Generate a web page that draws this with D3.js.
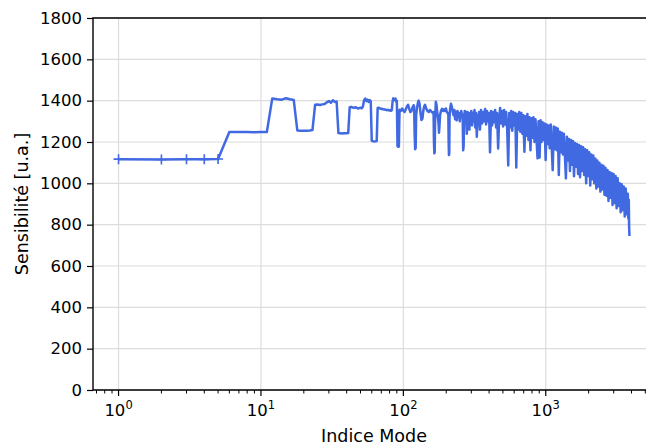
<!DOCTYPE html>
<html><head><meta charset="utf-8">
<script src="https://cdn.jsdelivr.net/npm/d3@7"></script>
<style>
body{margin:0;background:#fff}
svg{display:block}
text{font-family:"DejaVu Sans",sans-serif;fill:#000}
</style>
</head><body>
<svg id="chart" width="646" height="447"></svg>
<script>
// Mode index (x) and sensitivity (y)
const modeIndex = [
1,2,3,4,5,6,7,8,9,10,11,12,13,14,15,16,17,18,19,20,21,22,23,24,25,26,27,28,29,30,
31,32,33,34,35,36,37,38,39,40,41,42,43,44,45,46,47,48,49,50,51,52,53,54,55,56,57,58,59,60,
61,62,63,64,65,66,67,68,69,70,71,72,73,74,75,76,77,78,79,80,81,82,83,84,85,86,87,88,89,90,
91,92,93,94,96,98,100,102,104,106,108,110,112,114,116,118,119,120,121,122,123,125,127,128,130,
132,134,136,138,140,142,145,148,151,154,157,160,163,164,165,166,167,169,171,173,175,177,178,179,181,
184,187,190,193,196,199,202,205,207,208,209,210,211,213,216,219,222,225,228,231,234,237,240,243,246,
249,252,255,258,261,263,265,267,270,273,276,279,282,285,288,291,294,297,300,304,308,312,316,320,324,
328,332,336,340,
345,351,357,363,369,375,381,387,393,400,406,413,420,427,434,441,448,455,463,470,
478,486,494,502,510,519,527,536,545,554,563,572,582,591,601,611,621,631,642,652,
663,674,685,696,708,720,731,743,756,768,781,794,807,820,834,847,861,876,890,905,
920,935,950,966,982,998,1015,1031,1048,1066,1083,1101,1119,1138,1157,1176,1195,1215,1235,1255,
1276,1297,1319,1340,1363,1385,1408,1431,1455,1479,1503,1528,1553,1579,1605,1632,1659,1686,1714,1742,
1771,1800,1830,1860,1891,1922,1954,1986,2019,2053,2087,2121,2156,2192,2228,2265,2303,2341,2379,2419,
2459,2499,2541,2583,2625,2669,2713,2758,2803,2850,2897,2945,2993,3043,3093,3144,3196,3249,3303,3357,
3413,3469,3527,3585,3644,3705,3766,3800,3828,3850,3870
];
const sensitivity = [
1117,1115,1117,1116,1118,1248,1248,1248,1247,1248,1248,1410,1407,1405,1412,1407,1403,1256,1255,1254,1255,1256,1258,1380,1381,1379,1382,1384,1392,1398,
1390,1402,1394,1396,1243,1242,1241,1242,1242,1242,1243,1368,1370,1367,1366,1368,1366,1362,1364,1366,1363,1372,1402,1410,1398,1405,1394,1403,1398,1206,
1204,1203,1203,1204,1205,1365,1366,1364,1362,1360,1361,1358,1357,1358,1356,1355,1354,1356,1353,1352,1354,1351,1355,1396,1411,1408,1404,1410,1395,1400,
1180,1177,1178,1356,1350,1362,1352,1345,1358,1372,1380,1360,1345,1350,1368,1378,1372,1240,1165,1170,1330,1370,1395,1400,1385,
1340,1306,1312,1350,1372,1380,1360,1350,1345,1355,1348,1342,1345,1200,1145,1150,1300,1395,1380,1340,1320,1280,1245,1270,1330,
1352,1360,1350,1358,1350,1362,1345,1340,1330,1200,1137,1145,1320,1360,1385,1370,1350,1330,1355,1310,1345,1305,1350,1325,1340,
1300,1335,1350,1330,1320,1160,1180,1330,1350,1300,1345,1240,1345,1290,1340,1260,1335,1310,1350,1280,1340,1300,1355,1270,1340,
1226,1330,1290,1345,
1260,1355,1290,1345,1300,1360,1285,1350,1300,1340,1150,1350,1280,1345,1295,1355,1270,1340,1169,1300,
1365,1290,1350,1275,1355,1285,1345,1260,1087,1340,1270,1350,1255,1345,1280,1340,1077,1335,1260,1345,
1250,1340,1240,1330,1153,1325,1230,1335,1210,1320,1160,1315,1220,1320,1200,1310,1215,1121,1300,1125,
1305,1200,1295,1210,1290,1113,1285,1190,1280,1170,1285,1175,1064,1275,1165,1270,1160,1265,1040,1250,
1150,1245,1140,1240,1130,1024,1225,1110,1215,1060,1210,1090,1205,1035,1195,1080,1190,1045,1185,1030,
1180,1060,1175,1040,1165,1000,1160,1035,1150,990,1140,1020,1135,1000,1120,975,1110,985,1100,960,
1090,970,1085,945,1075,940,1065,915,1055,930,1050,895,1045,905,1035,880,1025,890,1000,860,
995,870,985,840,975,850,950,830,920,790,745
];
const yTickValues = [0,200,400,600,800,1000,1200,1400,1600,1800];
const xMajorTicks = [1,10,100,1000];
const xTickExponents = ["0","1","2","3"];
const markedModes = [1,2,3,4,5];
const xLabel = "Indice Mode";
const yLabel = "Sensibilité [u.a.]";

const data = modeIndex.map((m,i)=>({m, v: sensitivity[i]}));
const svg = d3.select("#chart");
const L = 93, R = 655, T = 18, B = 390;
const nLast = d3.max(modeIndex);
const x = d3.scaleLog()
  .domain([Math.pow(nLast,-0.05), Math.pow(nLast,1.05)])
  .range([L, R]);
const y = d3.scaleLinear().domain([0,1800]).range([B, T]);

svg.append("defs").append("clipPath").attr("id","clip")
  .append("rect").attr("x",L).attr("y",T).attr("width",R-L).attr("height",B-T);

// grid
const grid = svg.append("g").attr("stroke","#dcdcdc").attr("stroke-width",1.2);
grid.selectAll("line.gy").data(yTickValues).join("line")
  .attr("x1",L).attr("x2",R).attr("y1",d=>y(d)).attr("y2",d=>y(d));
grid.selectAll("line.gx").data(xMajorTicks).join("line")
  .attr("x1",d=>x(d)).attr("x2",d=>x(d)).attr("y1",T).attr("y2",B);

// data line
const plot = svg.append("g").attr("clip-path","url(#clip)");
plot.append("path").datum(data)
  .attr("fill","none").attr("stroke","#4169e1").attr("stroke-width",2.5)
  .attr("stroke-linejoin","round")
  .attr("d", d3.line().x(d=>x(d.m)).y(d=>y(d.v)));
const mk = data.filter(d=>markedModes.includes(d.m));
plot.selectAll("path.mk").data(mk).join("path")
  .attr("fill","none").attr("stroke","#4169e1").attr("stroke-width",1.6)
  .attr("d", d=>{const cx=x(d.m), cy=y(d.v), s=5; return `M${cx-s},${cy}H${cx+s}M${cx},${cy-s}V${cy+s}`;});

// axes
const yAxis = d3.axisLeft(y).tickValues(yTickValues).tickSize(6).tickPadding(5).tickFormat(d3.format("d"));
const gy = svg.append("g").attr("transform",`translate(${L},0)`).call(yAxis);
gy.select(".domain").remove();
gy.selectAll(".tick line").attr("stroke","#000").attr("stroke-width",1.2);
gy.selectAll("text").attr("font-size",16.5).attr("font-family","DejaVu Sans");

const minor = [];
const [d0,d1] = x.domain();
for (let e=-1;e<=4;e++) for (let k=2;k<=9;k++){const v=k*Math.pow(10,e); if(v>=d0&&v<=d1) minor.push(v);}
const gx = svg.append("g").attr("transform",`translate(0,${B})`);
gx.selectAll("line.minor").data(minor).join("line")
  .attr("x1",d=>x(d)).attr("x2",d=>x(d)).attr("y1",0).attr("y2",3.5)
  .attr("stroke","#000").attr("stroke-width",1);
gx.selectAll("line.major").data(xMajorTicks).join("line")
  .attr("x1",d=>x(d)).attr("x2",d=>x(d)).attr("y1",0).attr("y2",6)
  .attr("stroke","#000").attr("stroke-width",1.2);
const lbl = gx.selectAll("text.xl").data(xMajorTicks).join("text")
  .attr("x",d=>x(d)).attr("y",26).attr("text-anchor","middle").attr("font-size",16.5);
lbl.append("tspan").text("10");
lbl.append("tspan").attr("dy",-7).attr("font-size",11.5).text((d,i)=>xTickExponents[i]);

// spines
svg.append("g").attr("stroke","#000").attr("stroke-width",1.4).attr("fill","none")
  .append("path").attr("d",`M${L},${T}H${R}V${B}H${L}Z`);

// labels
svg.append("text").attr("x",(L+R)/2).attr("y",442).attr("text-anchor","middle")
  .attr("font-size",17.5).text(xLabel);
svg.append("text").attr("transform",`translate(28,${(T+B)/2}) rotate(-90)`)
  .attr("text-anchor","middle").attr("font-size",17.5).text(yLabel);
</script>
</body></html>
